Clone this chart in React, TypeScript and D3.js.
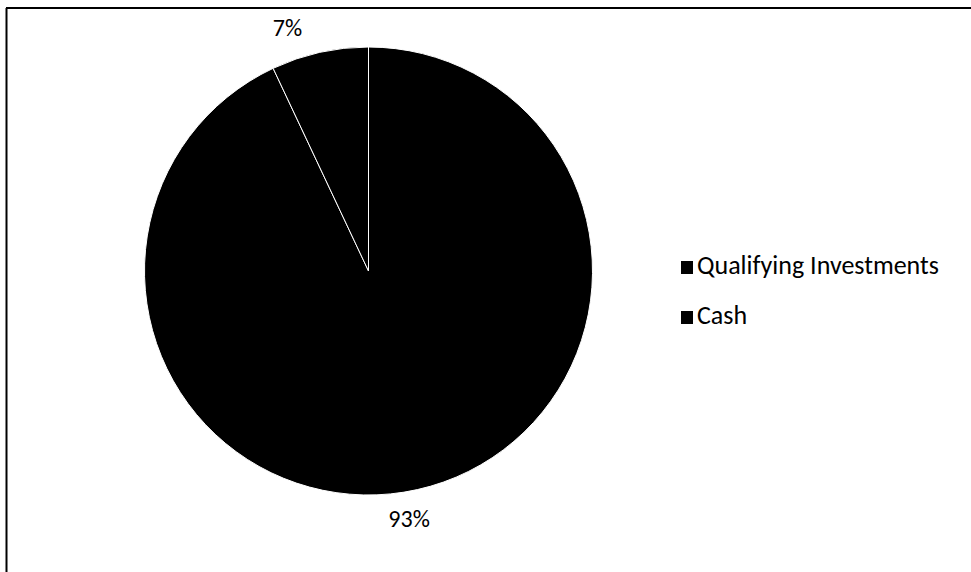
import React from "react";
import * as d3 from "d3";

const categories = ["Qualifying Investments", "Cash"];
const values = [93, 7];
const labels = ["93%", "7%"];
const colors = ["#000000", "#000000"];

const W = 971;
const H = 572;
const cx = 368.5;
const cy = 271;
const R = 224;
const labelR = 254;
const labelShiftDeg = [3.4, -6.0];

export default function App() {
  const pie = d3.pie<number>().sort(null).value((d) => d)(values);
  const arc = d3.arc<d3.PieArcDatum<number>>().innerRadius(0).outerRadius(R);
  const font = "Carlito, Calibri, Lato, 'Liberation Sans', Arial, sans-serif";
  return (
    <svg width={W} height={H} style={{ position: "absolute", left: 0, top: 0, background: "#fff" }}>
      <line x1={6.5} y1={8} x2={6.5} y2={H} stroke="#000" strokeWidth={2} />
      <line x1={6} y1={8} x2={W} y2={8} stroke="#000" strokeWidth={2} />
      <g transform={`translate(${cx},${cy})`}>
        {pie.map((p, i) => (
          <path key={i} d={arc(p) || ""} fill={colors[i]} stroke="#fff" strokeWidth={1} />
        ))}
        {pie.map((p, i) => {
          const a = (p.startAngle + p.endAngle) / 2 + (labelShiftDeg[i] * Math.PI) / 180;
          const x = labelR * Math.sin(a);
          const y = -labelR * Math.cos(a);
          return (
            <text key={i} x={x} y={y} textAnchor="middle" dominantBaseline="middle" fontFamily={font} fontSize={24} fill="#000">
              {labels[i]}
            </text>
          );
        })}
      </g>
      <g>
        {categories.map((c, i) => (
          <g key={c} transform={`translate(681,${268 + i * 50})`}>
            <rect x={0} y={-7} width={12} height={13} fill={colors[i]} />
            <text x={16} y={0} dominantBaseline="middle" fontFamily={font} fontSize={26} fill="#000">
              {c}
            </text>
          </g>
        ))}
      </g>
    </svg>
  );
}
